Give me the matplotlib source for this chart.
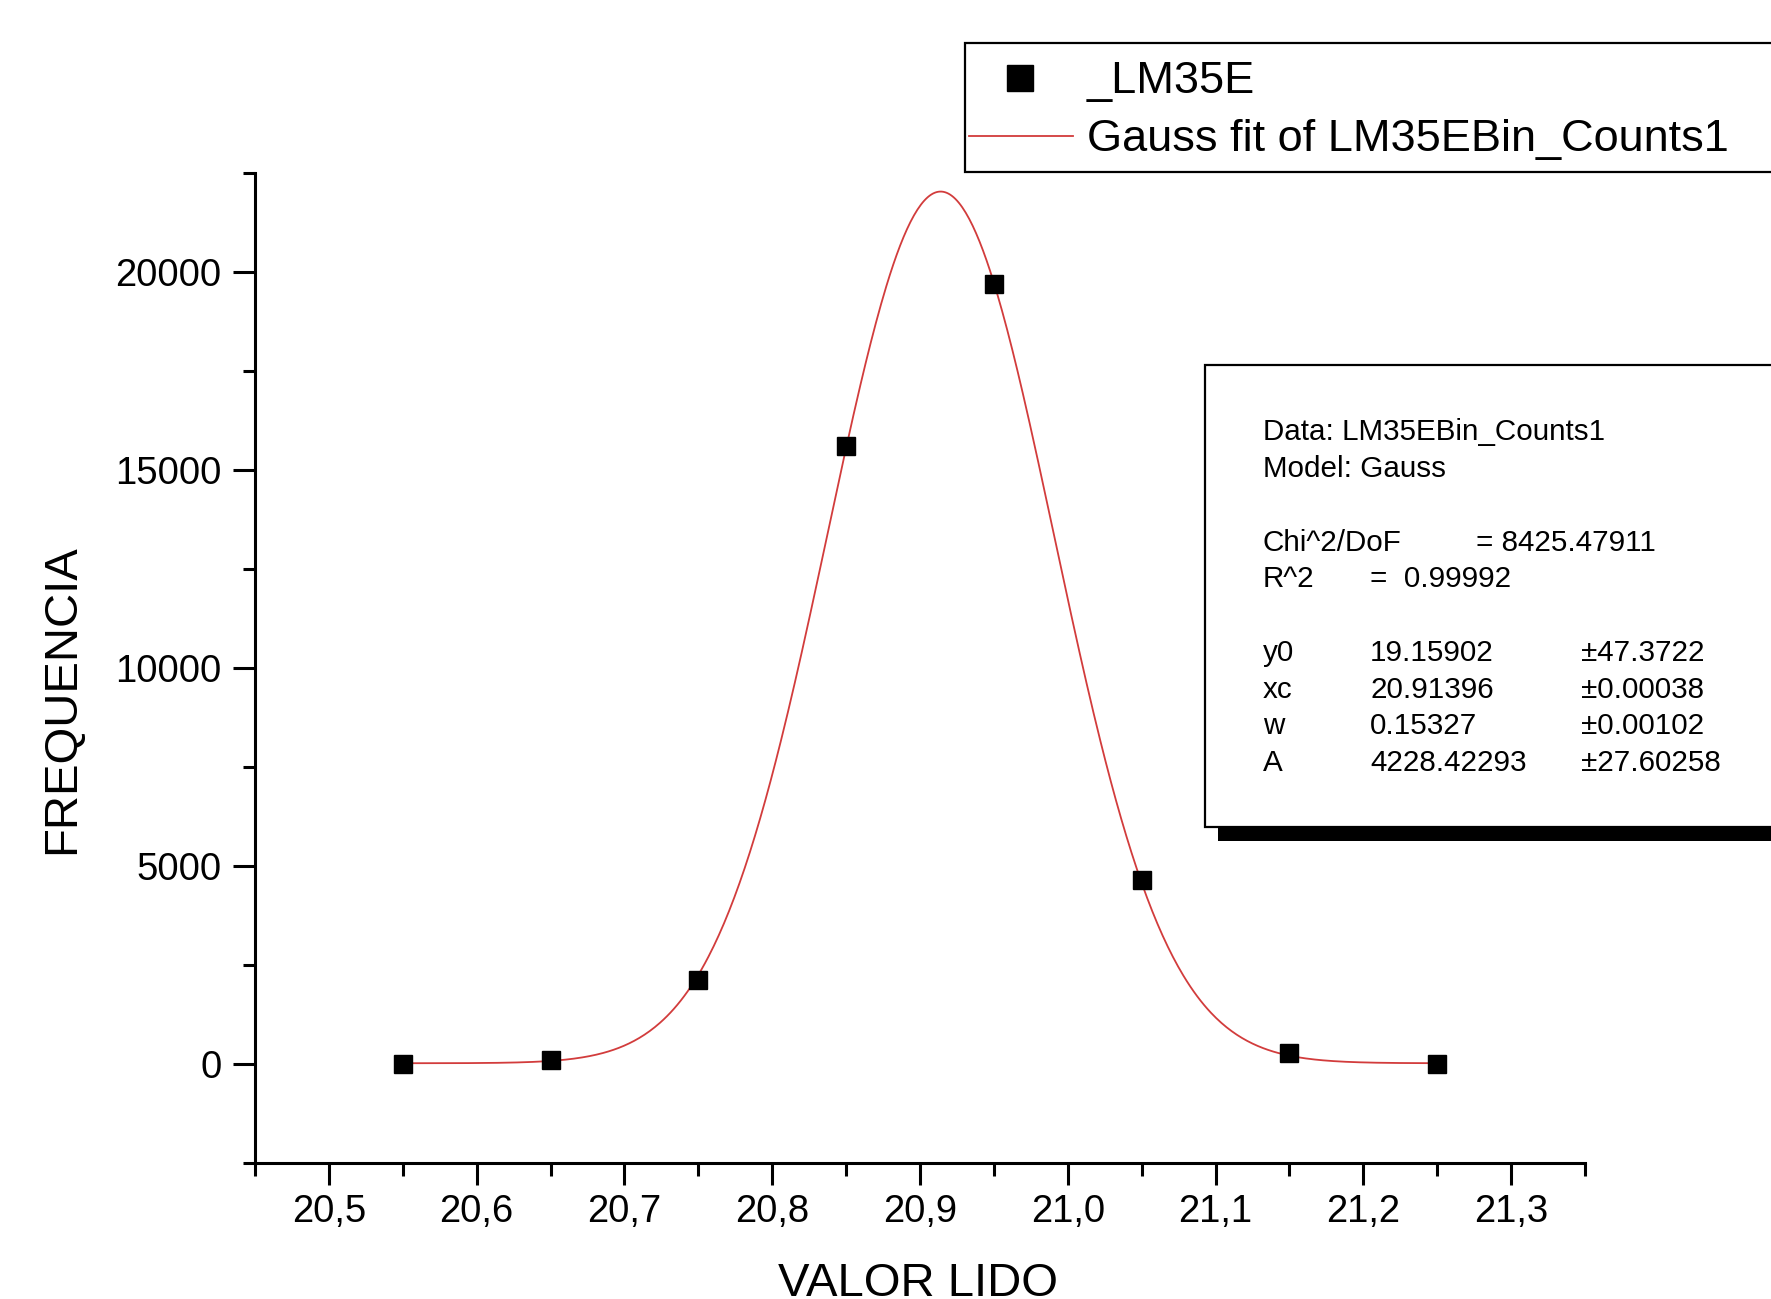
import numpy as np
import matplotlib
matplotlib.use("Agg")
import matplotlib.pyplot as plt
from matplotlib.patches import Rectangle
from matplotlib.lines import Line2D

# ---------------- data ----------------
x_values = [20.55, 20.65, 20.75, 20.85, 20.95, 21.05, 21.15, 21.25]
counts = [0, 100, 2110, 15610, 19690, 4640, 280, 0]

# Gauss fit parameters (Origin: y = y0 + A/(w*sqrt(pi/2)) * exp(-2((x-xc)/w)^2))
fit_y0 = 19.15902
fit_xc = 20.91396
fit_w = 0.15327
fit_A = 4228.42293

x_ticks = [20.5, 20.6, 20.7, 20.8, 20.9, 21.0, 21.1, 21.2, 21.3]
x_tick_labels = ["20,5", "20,6", "20,7", "20,8", "20,9", "21,0", "21,1", "21,2", "21,3"]
y_ticks = [0, 5000, 10000, 15000, 20000]
y_tick_labels = ["0", "5000", "10000", "15000", "20000"]

series_label = "_LM35E"
fit_label = "Gauss fit of LM35EBin_Counts1"

stats_header = ["Data: LM35EBin_Counts1", "Model: Gauss"]
stats_params = [("y0", "19.15902", "\u00b147.3722"),
                ("xc", "20.91396", "\u00b10.00038"),
                ("w", "0.15327", "\u00b10.00102"),
                ("A", "4228.42293", "\u00b127.60258")]

# ---------------- figure ----------------
W, H = 1771, 1299
plt.rcParams['font.family'] = ['Liberation Sans', 'DejaVu Sans']
fig = plt.figure(figsize=(W / 100, H / 100), dpi=100)

def fx(px):
    return px / W

def fy(py):
    return 1 - py / H

ax_l, ax_r, ax_t, ax_b = 255, 1585, 173, 1163
ax = fig.add_axes([fx(ax_l), fy(ax_b), fx(ax_r - ax_l), (ax_b - ax_t) / H])

red = '#d23c3c'
xs = np.linspace(min(x_values), max(x_values), 600)
ys = fit_y0 + fit_A / (fit_w * np.sqrt(np.pi / 2)) * np.exp(-2 * ((xs - fit_xc) / fit_w) ** 2)
ax.plot(xs, ys, color=red, lw=1.3, zorder=2)
ax.plot(x_values, counts, ls='none', marker='s', ms=13.5, color='black', zorder=3)

ax.set_xlim(20.45, 21.35)
ax.set_ylim(-2500, 22500)
ax.set_xticks(x_ticks)
ax.set_xticklabels(x_tick_labels)
ax.set_xticks(np.arange(20.45, 21.36, 0.1), minor=True)
ax.set_yticks(y_ticks)
ax.set_yticklabels(y_tick_labels)
ax.set_yticks(np.arange(-2500, 22501, 5000), minor=True)

for s in ['top', 'right']:
    ax.spines[s].set_visible(False)
for s in ['left', 'bottom']:
    ax.spines[s].set_linewidth(2.2)
ax.tick_params(which='major', direction='out', length=16, width=2.2, labelsize=27.5)
ax.tick_params(which='minor', direction='out', length=9, width=2.2)
ax.tick_params(axis='y', which='major', pad=8)
ax.tick_params(axis='x', which='major', pad=6)

ax.set_ylabel("FREQUENCIA", fontsize=34, va='center')
ax.set_xlabel("VALOR LIDO", fontsize=34)
ax.yaxis.set_label_coords((62 - ax_l) / (ax_r - ax_l), (ax_b - 699) / (ax_b - ax_t))
ax.xaxis.set_label_coords((918 - ax_l) / (ax_r - ax_l), (ax_b - 1262) / (ax_b - ax_t))

# ---------------- legend box ----------------
fig.patches.append(Rectangle((fx(965), fy(172)), fx(900), (172 - 43) / H,
                             transform=fig.transFigure, facecolor='white',
                             edgecolor='black', lw=1.6, zorder=5))
fig.lines.append(Line2D([fx(1020)], [fy(78)], transform=fig.transFigure, marker='s',
                        ms=19, color='black', ls='none', zorder=6))
fig.lines.append(Line2D([fx(969), fx(1073)], [fy(136), fy(136)], transform=fig.transFigure,
                        color=red, lw=1.3, zorder=6))
fig.text(fx(1087), fy(81), series_label, fontsize=32.5, va='center', ha='left', zorder=7)
fig.text(fx(1087), fy(139), fit_label, fontsize=32.5, va='center', ha='left', zorder=7)

# ---------------- stats box ----------------
fig.patches.append(Rectangle((fx(1218), fy(841)), fx(700), (841 - 380) / H,
                             transform=fig.transFigure, facecolor='black',
                             edgecolor='black', lw=0, zorder=5))
fig.patches.append(Rectangle((fx(1205), fy(827)), fx(700), (827 - 365) / H,
                             transform=fig.transFigure, facecolor='white',
                             edgecolor='black', lw=1.6, zorder=6))
fs = 21.3
fig.text(fx(1263), fy(432), stats_header[0], fontsize=fs, va='center', zorder=7)
fig.text(fx(1263), fy(469), stats_header[1], fontsize=fs, va='center', zorder=7)
fig.text(fx(1263), fy(543), "Chi^2/DoF", fontsize=fs, va='center', zorder=7)
fig.text(fx(1476), fy(543), "= 8425.47911", fontsize=fs, va='center', zorder=7)
fig.text(fx(1263), fy(579), "R^2", fontsize=fs, va='center', zorder=7)
fig.text(fx(1370), fy(579), "=  0.99992", fontsize=fs, va='center', zorder=7)
for i, (name, val, err) in enumerate(stats_params):
    yy = 653 + i * 36.7
    fig.text(fx(1263), fy(yy), name, fontsize=fs, va='center', zorder=7)
    fig.text(fx(1370), fy(yy), val, fontsize=fs, va='center', zorder=7)
    fig.text(fx(1581), fy(yy), err, fontsize=fs, va='center', zorder=7)

fig.savefig("out.png", dpi=100)
